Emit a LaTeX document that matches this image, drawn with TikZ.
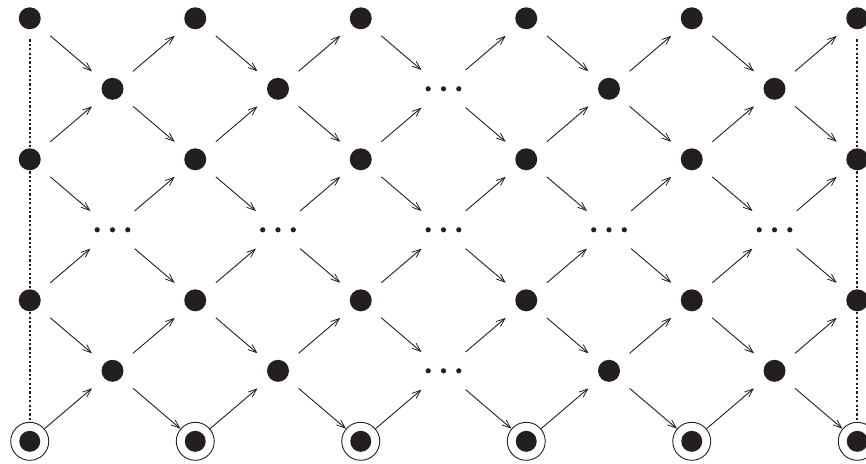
\documentclass[tikz,border=0pt]{standalone}
\usetikzlibrary{arrows.meta}
\definecolor{dotcol}{HTML}{231F20}
\begin{document}
\begin{tikzpicture}[x=1pt,y=-1pt,
  dotnode/.style={circle,fill=dotcol,draw=none,inner sep=0pt,minimum size=22pt,outer sep=16pt},
  ellnode/.style={circle,draw=none,inner sep=0pt,minimum size=22pt,outer sep=18pt},
  ringnode/.style={circle,draw=dotcol,line width=0.9pt,inner sep=0pt,minimum size=38pt,outer sep=0.5pt,
     path picture={\fill[dotcol] (path picture bounding box.center) circle (10.5pt);}},
  arr/.style={draw=dotcol,line width=0.9pt,-{Straight Barb[length=8.5pt,width=6.5pt,line width=0.8pt]}},
  dotline/.style={draw=dotcol,line width=2.2pt,dash pattern=on 2.2pt off 2.2pt}]
\useasboundingbox (0,0) rectangle (866,463);
% nodes
\foreach \k in {0,...,6}{
  \foreach \j in {0,...,10}{
    \pgfmathtruncatemacro{\pp}{mod(\k+\j,2)}
    \ifnum\pp=0
      \pgfmathtruncatemacro{\typ}{(\k==6) ? 2 : ((\k==3 || ((\k==1 || \k==5) && \j==5)) ? 1 : 0)}
      \ifnum\typ=2
        \node[ringnode] (n-\k-\j) at ({29.75+82.75*\j},{18.3+70.5*\k}) {};
      \else\ifnum\typ=1
        \node[ellnode] (n-\k-\j) at ({29.75+82.75*\j},{18.3+70.5*\k}) {};
        \foreach \d in {-15.3,0,15.3}{\fill[dotcol] ([xshift=\d pt]n-\k-\j.center) circle (2.6pt);}
      \else
        \node[dotnode] (n-\k-\j) at ({29.75+82.75*\j},{18.3+70.5*\k}) {};
      \fi\fi
    \fi
  }
}
% edges
\foreach \k in {0,...,6}{
  \foreach \j in {0,...,9}{
    \pgfmathtruncatemacro{\pp}{mod(\k+\j,2)}
    \ifnum\pp=0
      \pgfmathtruncatemacro{\jn}{\j+1}
      \ifnum\k>0
        \pgfmathtruncatemacro{\ku}{\k-1}
        \draw[arr] (n-\k-\j) -- (n-\ku-\jn);
      \fi
      \ifnum\k<6
        \pgfmathtruncatemacro{\kd}{\k+1}
        \draw[arr] (n-\k-\j) -- (n-\kd-\jn);
      \fi
    \fi
  }
}
% dotted verticals
\draw[dotline,shorten <=21pt,shorten >=19.5pt] (n-0-0.center) -- (n-6-0.center);
\draw[dotline,shorten <=21pt,shorten >=19.5pt] (n-0-10.center) -- (n-6-10.center);
\end{tikzpicture}
\end{document}
